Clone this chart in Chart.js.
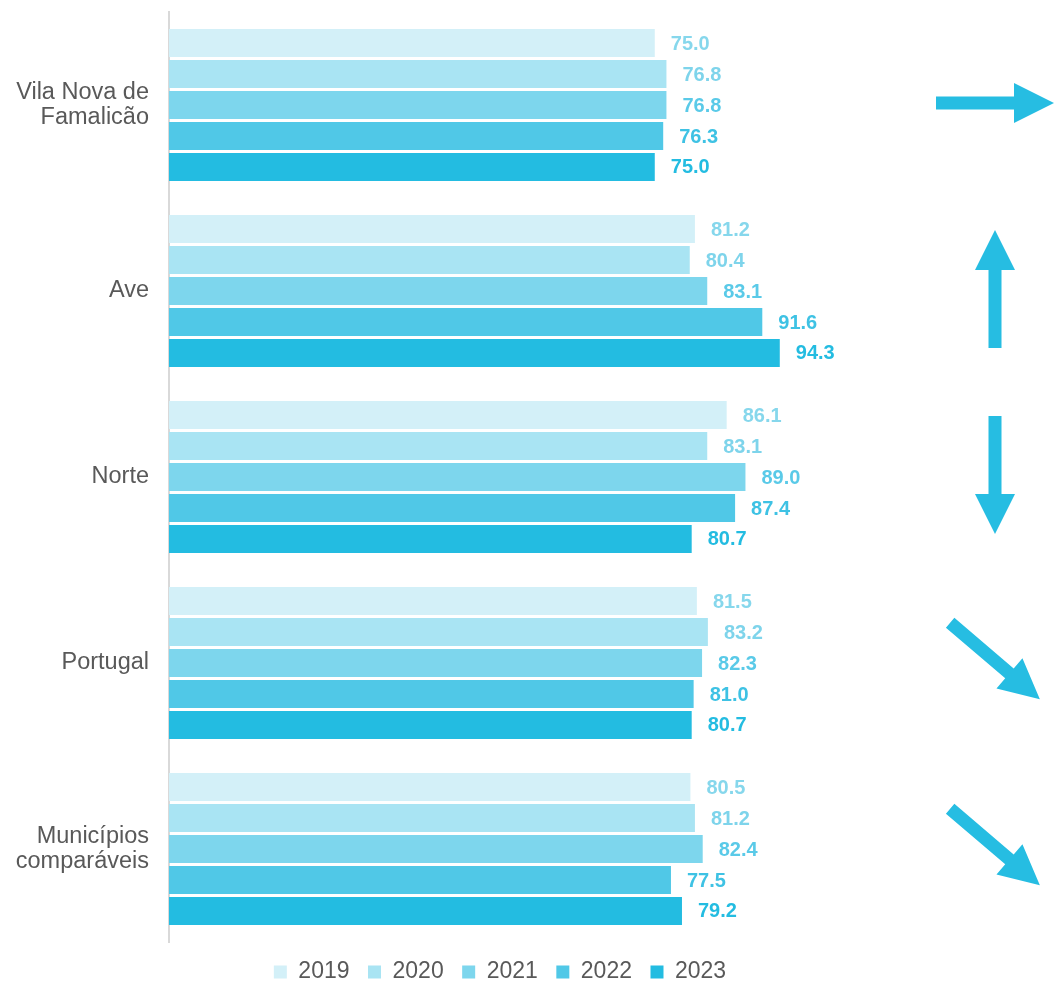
<!DOCTYPE html>
<html>
<head>
<meta charset="utf-8">
<script src="https://cdn.jsdelivr.net/npm/chart.js@4"></script>
<style>
  html, body { margin: 0; padding: 0; background: #ffffff; }
  #wrap { width: 1062px; height: 982px; position: relative; }
</style>
</head>
<body>
<div id="wrap"><canvas id="c"></canvas></div>
<script>
// ---- data ----
const categories = [["Vila Nova de", "Famalicão"], "Ave", "Norte", "Portugal", ["Municípios", "comparáveis"]];
const seriesNames = ["2019", "2020", "2021", "2022", "2023"];
const values2019 = [75.0, 81.2, 86.1, 81.5, 80.5];
const values2020 = [76.8, 80.4, 83.1, 83.2, 81.2];
const values2021 = [76.8, 83.1, 89.0, 82.3, 82.4];
const values2022 = [76.3, 91.6, 87.4, 81.0, 77.5];
const values2023 = [75.0, 94.3, 80.7, 80.7, 79.2];
// trend arrow direction per category (degrees, 0 = right, -90 = up, 90 = down)
const trendAngles = [0, -90, 90, 40.5, 40.5];

// ---- styles ----
const barColors = ["#D3F0F8", "#A9E4F3", "#7DD6ED", "#50C8E7", "#23BCE1"];
const labelColors = ["#86D7EC", "#7ED4EB", "#5ACAE8", "#3EC2E4", "#23BCE1"];
const allValues = [values2019, values2020, values2021, values2022, values2023];

const datasets = seriesNames.map((name, i) => ({
  label: name,
  data: allValues[i],
  backgroundColor: barColors[i],
  borderWidth: 0,
  categoryPercentage: 0.833,
  barPercentage: 0.9
}));

const valueLabels = {
  id: 'valueLabels',
  afterDatasetsDraw(chart) {
    const ctx = chart.ctx;
    ctx.save();
    ctx.font = 'bold 20px "Liberation Sans", Arial, sans-serif';
    ctx.textAlign = 'left';
    ctx.textBaseline = 'middle';
    chart.data.datasets.forEach((ds, di) => {
      const meta = chart.getDatasetMeta(di);
      if (meta.hidden) return;
      meta.data.forEach((el, i) => {
        ctx.fillStyle = labelColors[di];
        ctx.fillText(ds.data[i].toFixed(1), el.x + 16, el.y + 1);
      });
    });
    ctx.restore();
  }
};

const trendArrows = {
  id: 'trendArrows',
  afterDraw(chart) {
    const ctx = chart.ctx;
    const yScale = chart.scales.y;
    const cx = chart.width - 67;
    ctx.save();
    ctx.fillStyle = '#26BDE2';
    trendAngles.forEach((ang, i) => {
      const cy = yScale.getPixelForValue(i) - 2;
      ctx.save();
      ctx.translate(cx, cy);
      ctx.rotate(ang * Math.PI / 180);
      ctx.beginPath();
      ctx.moveTo(-59, -6.5);
      ctx.lineTo(19, -6.5);
      ctx.lineTo(19, -20);
      ctx.lineTo(59, 0);
      ctx.lineTo(19, 20);
      ctx.lineTo(19, 6.5);
      ctx.lineTo(-59, 6.5);
      ctx.closePath();
      ctx.fill();
      ctx.restore();
    });
    ctx.restore();
  }
};

new Chart(document.getElementById('c'), {
  type: 'bar',
  data: { labels: categories, datasets },
  options: {
    indexAxis: 'y',
    responsive: true,
    maintainAspectRatio: false,
    animation: false,
    layout: { padding: { top: 12, right: 62, left: 0, bottom: -11.5 } },
    scales: {
      x: {
        display: false,
        min: 0,
        max: 128.3
      },
      y: {
        afterFit(scale) { scale.width = 169; scale.paddingTop = 0; scale.paddingBottom = 0; },
        grid: { display: false, drawTicks: false },
        border: { display: true, color: '#D9D9D9', width: 2 },
        ticks: {
          color: '#595959',
          padding: 20,
          font: { family: '"Liberation Sans", Arial, sans-serif', size: 23.5, lineHeight: 1.1 }
        }
      }
    },
    plugins: {
      legend: {
        position: 'bottom',
        labels: {
          boxWidth: 13,
          boxHeight: 13,
          padding: 18.5,
          color: '#595959',
          font: { family: '"Liberation Sans", Arial, sans-serif', size: 23 }
        }
      },
      tooltip: { enabled: false }
    }
  },
  plugins: [valueLabels, trendArrows]
});
</script>
</body>
</html>
